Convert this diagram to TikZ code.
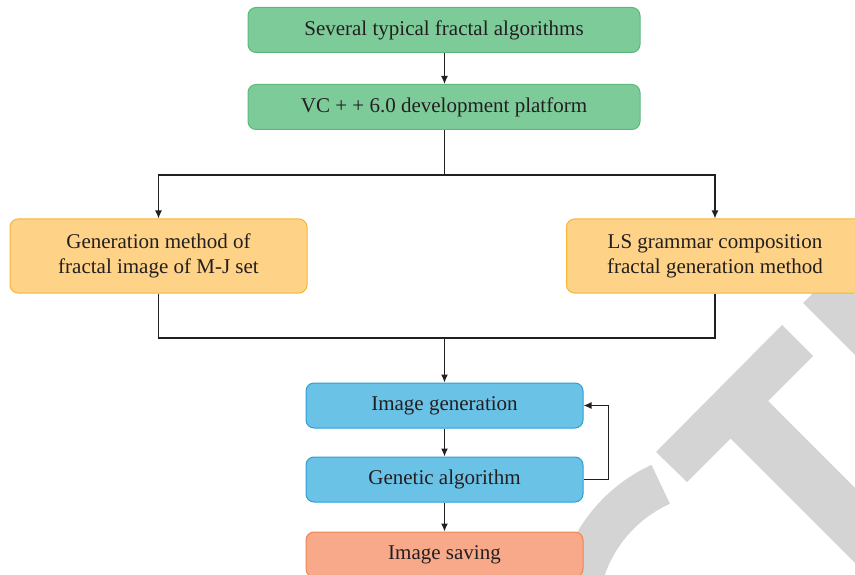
\documentclass[tikz,border=0pt]{standalone}
\usepackage{fontspec}
\setmainfont{Liberation Serif}
\usetikzlibrary{arrows.meta}

\definecolor{ink}{HTML}{231F20}
\definecolor{greenfill}{HTML}{7ECB9A}
\definecolor{greenline}{HTML}{5DB87F}
\definecolor{orangefill}{HTML}{FED287}
\definecolor{orangeline}{HTML}{F8B538}
\definecolor{bluefill}{HTML}{6BC2E7}
\definecolor{blueline}{HTML}{2A9FD9}
\definecolor{salmonfill}{HTML}{F7A98A}
\definecolor{salmonline}{HTML}{EF8550}
\definecolor{stampgray}{HTML}{D4D4D4}

\tikzset{
  box/.style={rectangle, rounded corners=8pt, line width=1pt, align=center,
    text=ink, inner sep=0pt, font=\fontsize{21}{25}\selectfont},
  greenbox/.style={box, fill=greenfill, draw=greenline,
    minimum width=392pt, minimum height=45pt},
  orangebox/.style={box, fill=orangefill, draw=orangeline,
    minimum width=297pt, minimum height=74pt},
  bluebox/.style={box, fill=bluefill, draw=blueline,
    minimum width=277pt, minimum height=45pt},
  salmonbox/.style={box, fill=salmonfill, draw=salmonline,
    minimum width=277pt, minimum height=45pt},
  link/.style={draw=ink, line width=1.2pt},
  arrow/.style={link, -{Latex[length=8pt,width=7pt]}}
}

\begin{document}
\begin{tikzpicture}[x=1pt,y=-1pt]
\useasboundingbox (0,0) rectangle (855,575);
\begin{scope}
\clip (0,0) rectangle (855,575);

% stamp shapes in the background
\fill[stampgray] (656,452) -- (687,482) -- (813,356) -- (782,325) -- cycle;
\fill[stampgray] (725,433) -- (763,396) -- (950,583) -- (912,620) -- cycle;
\fill[stampgray] (803,303) -- (833,273) -- (950,390) -- (920,420) -- cycle;
\draw[stampgray, line width=43pt]
  ([shift={(245.6:143.5)}]720,615) arc[start angle=245.6, end angle=150, radius=143.5];

% boxes
\node[greenbox] (alg) at (444,30) {Several typical fractal algorithms};
\node[greenbox] (vc) at (444,107) {VC + + 6.0 development platform};
\node[orangebox] (mj) at (158.5,256) {Generation method of\\fractal image of M-J set};
\node[orangebox] (ls) at (715,256) {LS grammar composition\\fractal generation method};
\node[bluebox] (gen) at (444.5,405.5) {Image generation};
\node[bluebox] (ga) at (444.5,479.5) {Genetic algorithm};
\node[salmonbox] (save) at (444.5,554.5) {Image saving};

% helper points of the split and merge lines
\coordinate (split) at (444.5,175);
\coordinate (merge) at (444.5,338);

% connectors
\draw[arrow] (alg.south -| split) -- (vc.north -| split);
\draw[link] (vc.south -| split) -- (split);
\draw[arrow] (split) -| (mj.north);
\draw[arrow] (split) -| (ls.north);
\draw[link] (mj.south) |- (merge);
\draw[link] (ls.south) |- (merge);
\draw[arrow] (merge) -- (gen.north);
\draw[arrow] (gen) -- (ga);
\draw[arrow] (ga) -- (save);
\draw[arrow] (ga.east) -- ++(25,0) |- (gen.east);
\end{scope}
\end{tikzpicture}
\end{document}
